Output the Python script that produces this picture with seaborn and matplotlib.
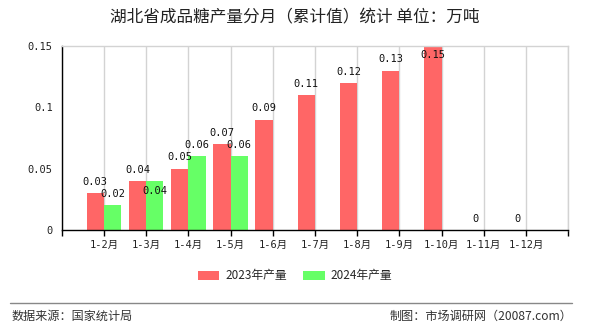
import matplotlib
matplotlib.use("Agg")
import matplotlib.pyplot as plt
import seaborn as sns
import pandas as pd
import numpy as np
from matplotlib.patches import Patch
from matplotlib.lines import Line2D

months = ["1-2月", "1-3月", "1-4月", "1-5月", "1-6月", "1-7月", "1-8月",
          "1-9月", "1-10月", "1-11月", "1-12月"]
series = ["2023年产量", "2024年产量"]
values_2023 = [0.03, 0.04, 0.05, 0.07, 0.09, 0.11, 0.12, 0.13, 0.15, 0, 0]
values_2024 = [0.02, 0.04, 0.06, 0.06, np.nan, np.nan, np.nan, np.nan, np.nan, np.nan, np.nan]
yticks = [0, 0.05, 0.1, 0.15]
ytick_labels = ["0", "0.05", "0.1", "0.15"]
title = "湖北省成品糖产量分月（累计值）统计 单位：万吨"
source_text = "数据来源：国家统计局"
maker_text = "制图：市场调研网（20087.com）"

colors = ["#FF6666", "#66FF66"]
mono = ["DejaVu Sans Mono", "Noto Sans CJK SC"]
cjk = ["Noto Sans CJK SC", "DejaVu Sans"]

sns.set_theme(style="white")
plt.rcParams["font.family"] = cjk

df = pd.DataFrame({
    "month": months * 2,
    "series": [series[0]] * len(months) + [series[1]] * len(months),
    "value": values_2023 + values_2024,
})

fig = plt.figure(figsize=(5.9, 3.3), dpi=100)
ax = fig.add_axes([61.7 / 590, 1 - 230 / 330, (568.3 - 61.7) / 590, (230 - 46) / 330])

sns.barplot(data=df, x="month", y="value", hue="series", order=months,
            hue_order=series, palette=colors, width=0.82, gap=0, dodge=True,
            saturation=1, errorbar=None, legend=False, ax=ax, zorder=2,
            linewidth=0, edgecolor="none")

ax.set_xlim(-1, len(months))
ax.set_ylim(0, 0.15)
ax.set_xticks(range(-1, len(months) + 1))
ax.set_xticklabels([""] + months + [""], family=mono, fontsize=7.5, color="#222222")
ax.set_yticks(yticks)
ax.set_yticklabels(ytick_labels, family=mono, fontsize=7.5, color="#222222")
ax.set_xlabel("")
ax.set_ylabel("")
ax.tick_params(axis="x", length=4, width=1, color="black", pad=3, direction="out", bottom=True)
ax.tick_params(axis="y", length=0, pad=6.5, left=False)
ax.grid(axis="x", color="#d3d3d3", lw=1, zorder=0)
ax.grid(axis="y", visible=False)
ax.set_axisbelow(True)
for s in ["left", "bottom"]:
    ax.spines[s].set_color("black")
    ax.spines[s].set_linewidth(1)
for s in ["top", "right"]:
    ax.spines[s].set_color("#d3d3d3")
    ax.spines[s].set_linewidth(1)

# extra label offsets (points) to mimic the original's label collision handling
extra = {(series[1], "1-3月"): -15, (series[0], "1-10月"): -14.5}

for si, cont in enumerate(ax.containers):
    sname = series[si]
    for patch, v in zip(cont.patches, cont.datavalues):
        if v is None or np.isnan(v):
            continue
        x = patch.get_x() + patch.get_width() / 2
        cat = int(round(x))
        dy = 4.5 + extra.get((sname, months[cat]), 0)
        ax.annotate(f"{v:g}", (x, v), xytext=(0, dy), textcoords="offset points",
                    ha="center", va="bottom", family=mono, fontsize=7.5,
                    color="#111111", annotation_clip=False, zorder=5)

fig.text(0.5, 1 - 18 / 330, title, ha="center", va="center", fontsize=12,
         color="#222222", family=cjk)

handles = [Patch(facecolor=c, edgecolor="none") for c in colors]
fig.legend(handles, series, loc="center", bbox_to_anchor=(0.5, 1 - 276 / 330),
           ncol=2, frameon=False, handlelength=1.8, handleheight=0.7,
           handletextpad=0.5, columnspacing=1.4, prop={"family": cjk, "size": 8.5})

fig.add_artist(Line2D([10 / 590, 572 / 590], [1 - 303 / 330] * 2, color="#888888", lw=1))
fig.text(12 / 590, 1 - 316 / 330, source_text, ha="left", va="center",
         fontsize=8.7, color="#333333", family=cjk)
fig.text(572 / 590, 1 - 316 / 330, maker_text, ha="right", va="center",
         fontsize=8.7, color="#333333", family=cjk)

fig.savefig("out.png", dpi=100)
